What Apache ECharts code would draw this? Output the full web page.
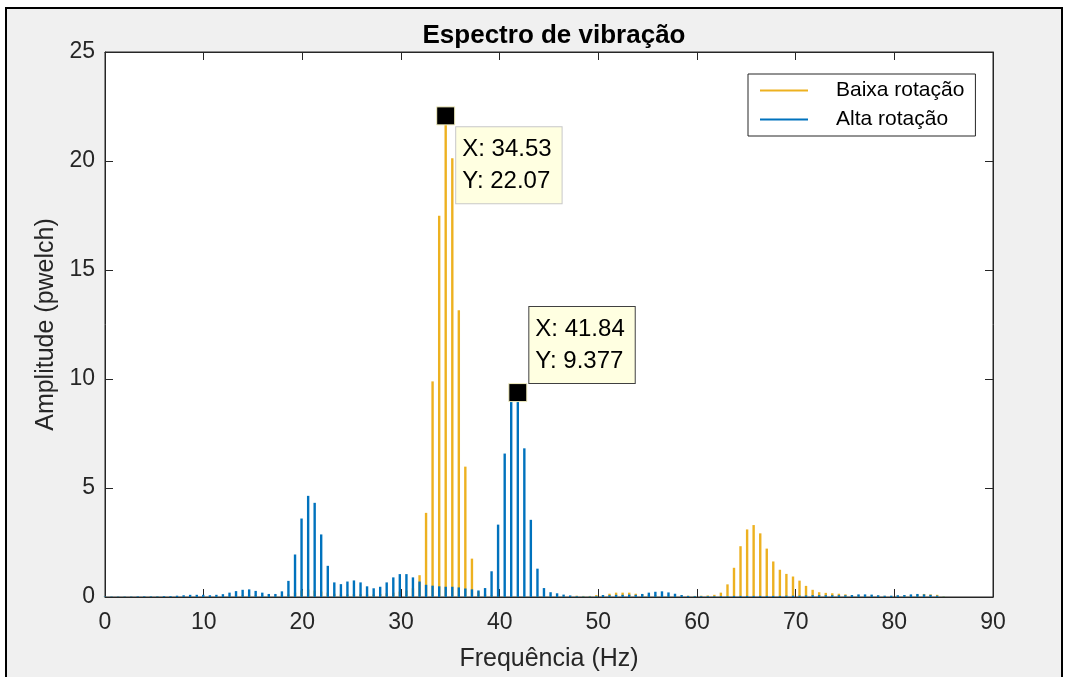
<!DOCTYPE html>
<html>
<head>
<meta charset="utf-8">
<script src="https://cdn.jsdelivr.net/npm/echarts@6/dist/echarts.min.js"></script>
<style>
html,body{margin:0;padding:0;background:#fff;}
#frame{position:absolute;left:5px;top:7px;width:1054px;height:700px;border:2px solid #000;background:#f0f0f0;}
#chart{position:absolute;left:0;top:0;width:1068px;height:677px;}
</style>
</head>
<body>
<div id="frame"></div>
<div id="chart"></div>
<script>
// Frequency bins (Hz)
const freq = [0.00,0.66,1.33,1.99,2.66,3.32,3.98,4.65,5.31,5.98,6.64,7.30,7.97,8.63,9.30,9.96,
10.63,11.29,11.95,12.62,13.28,13.95,14.61,15.27,15.94,16.60,17.27,17.93,18.59,19.26,19.92,
20.59,21.25,21.91,22.58,23.24,23.91,24.57,25.23,25.90,26.56,27.23,27.89,28.55,29.22,29.88,
30.55,31.21,31.88,32.54,33.20,33.87,34.53,35.20,35.86,36.52,37.19,37.85,38.52,39.18,39.84,
40.51,41.17,41.84,42.50,43.16,43.83,44.49,45.16,45.82,46.48,47.15,47.81,48.48,49.14,49.80,
50.47,51.13,51.80,52.46,53.13,53.79,54.45,55.12,55.78,56.45,57.11,57.77,58.44,59.10,59.77,
60.43,61.09,61.76,62.42,63.09,63.75,64.41,65.08,65.74,66.41,67.07,67.73,68.40,69.06,69.73,
70.39,71.05,71.72,72.38,73.05,73.71,74.38,75.04,75.70,76.37,77.03,77.70,78.36,79.02,79.69,
80.35,81.02,81.68,82.34,83.01,83.67,84.34,85.00];

// Baixa rotação (orange)
const baixa = [0.01,0.01,0.01,0.01,0.01,0.01,0.01,0.02,0.02,0.02,0.02,0.03,0.03,0.04,0.04,0.04,
0.04,0.05,0.05,0.06,0.07,0.08,0.08,0.08,0.07,0.06,0.06,0.08,0.12,0.2,0.3,
0.35,0.3,0.25,0.2,0.15,0.12,0.12,0.13,0.13,0.12,0.12,0.14,0.17,0.2,0.25,
0.3,0.4,1.0,3.86,9.89,17.49,22.07,20.13,13.15,5.98,1.76,0.25,0.12,0.08,0.06,
0.05,0.05,0.05,0.05,0.05,0.05,0.05,0.05,0.05,0.05,0.05,0.06,0.05,0.05,0.09,
0.07,0.15,0.2,0.2,0.2,0.15,0.12,0.1,0.08,0.07,0.06,0.06,0.06,0.06,0.05,
0.06,0.07,0.1,0.2,0.58,1.34,2.33,3.1,3.3,2.92,2.22,1.63,1.25,1.06,0.94,
0.75,0.51,0.33,0.22,0.19,0.17,0.15,0.12,0.07,0.07,0.07,0.07,0.06,0.05,0.05,
0.06,0.07,0.08,0.1,0.14,0.12,0.1,0.03];

// Alta rotação (blue)
const alta = [0.02,0.02,0.02,0.02,0.02,0.03,0.03,0.03,0.03,0.04,0.04,0.06,0.08,0.1,0.1,0.1,
0.08,0.1,0.13,0.2,0.27,0.33,0.35,0.28,0.2,0.14,0.14,0.26,0.74,1.95,3.6,
4.64,4.32,2.87,1.43,0.67,0.59,0.71,0.76,0.67,0.49,0.4,0.47,0.67,0.9,1.05,
1.05,0.9,0.71,0.56,0.52,0.49,0.47,0.47,0.44,0.39,0.35,0.3,0.41,1.18,3.32,
6.58,8.95,9.377,6.82,3.54,1.3,0.41,0.22,0.17,0.11,0.07,0.04,0.03,0.03,0.04,
0.09,0.08,0.1,0.1,0.11,0.1,0.14,0.2,0.24,0.26,0.21,0.15,0.09,0.05,0.04,
0.04,0.04,0.04,0.04,0.04,0.05,0.05,0.05,0.05,0.05,0.05,0.05,0.05,0.06,0.06,
0.06,0.07,0.08,0.08,0.08,0.08,0.08,0.08,0.09,0.12,0.12,0.11,0.08,0.06,0.06,
0.08,0.09,0.12,0.14,0.12,0.1,0.06,0.02];

const seriesNames = ['Baixa rotação', 'Alta rotação'];
const xTicks = {min: 0, max: 90, interval: 10};
const yTicks = {min: 0, max: 25, interval: 5};
const tipBaixaIdx = 52;
const tipAltaIdx = 63;

const FONT = '"Liberation Sans", Arial, Helvetica, sans-serif';
const AX = '#262626';

const chart = echarts.init(document.getElementById('chart'), null, {renderer: 'canvas'});

function xAx(pos, labels) {
  return {
    type: 'value', position: pos, min: xTicks.min, max: xTicks.max, interval: xTicks.interval,
    axisLine: {show: true, onZero: false, lineStyle: {color: AX, width: 1}},
    axisTick: {show: true, inside: true, length: 8, lineStyle: {color: AX}},
    axisLabel: {show: labels, fontSize: 23, color: AX, fontFamily: FONT, margin: 14},
    splitLine: {show: false},
    name: labels ? 'Frequência (Hz)' : '', nameLocation: 'middle', nameGap: 50,
    nameTextStyle: {fontSize: 25, color: AX, fontFamily: FONT}
  };
}
function yAx(pos, labels) {
  return {
    type: 'value', position: pos, min: yTicks.min, max: yTicks.max, interval: yTicks.interval,
    axisLine: {show: true, onZero: false, lineStyle: {color: AX, width: 1}},
    axisTick: {show: true, inside: true, length: 8, lineStyle: {color: AX}},
    axisLabel: {show: labels, fontSize: 23, color: AX, fontFamily: FONT, margin: 10},
    splitLine: {show: false},
    name: labels ? 'Amplitude (pwelch)' : '', nameLocation: 'middle', nameGap: 46,
    nameTextStyle: {fontSize: 25, color: AX, fontFamily: FONT}
  };
}

function tipLabel(x, y, pos, border) {
  return {
    show: true, position: pos,
    formatter: 'X: ' + x + '\nY: ' + y,
    fontSize: 24, lineHeight: 32, color: '#000', fontFamily: FONT,
    backgroundColor: '#ffffe1', borderColor: border, borderWidth: 1,
    padding: [6, 10, 6, 6], align: 'left', verticalAlign: 'top'
  };
}

const option = {
  backgroundColor: 'transparent',
  animation: false,
  title: {
    text: 'Espectro de vibração', left: 549, textAlign: 'center', top: 18,
    textStyle: {fontSize: 26, fontWeight: 'bold', color: '#000', fontFamily: FONT}
  },
  legend: {
    orient: 'vertical', left: 748, top: 74,
    data: seriesNames,
    icon: 'rect', itemWidth: 48, itemHeight: 2, itemGap: 8,
    backgroundColor: '#fff', borderColor: AX, borderWidth: 1, borderRadius: 0,
    padding: [6, 11, 6, 12],
    textStyle: {fontSize: 21, color: '#000', fontFamily: FONT, lineHeight: 20, padding: [0, 0, 0, 23]}
  },
  grid: {
    left: 105, top: 52, right: 75, bottom: 79,
    show: true, backgroundColor: '#fff', borderColor: AX, borderWidth: 1
  },
  xAxis: [xAx('bottom', true), xAx('top', false)],
  yAxis: [yAx('left', true), yAx('right', false)],
  series: [
    {
      name: seriesNames[0], type: 'bar', xAxisIndex: 0, yAxisIndex: 0,
      barWidth: 2.4, barGap: '-100%',
      itemStyle: {color: '#EDB120'},
      data: freq.map((f, i) => [f, baixa[i]]),
      markPoint: {
        symbol: 'rect', symbolSize: 18,
        itemStyle: {color: '#000', borderColor: '#f3efc0', borderWidth: 1},
        data: [{coord: [freq[tipBaixaIdx], baixa[tipBaixaIdx]],
                label: tipLabel(freq[tipBaixaIdx], baixa[tipBaixaIdx], [20, 21], '#c8c8c8')}]
      }
    },
    {
      name: seriesNames[1], type: 'bar', xAxisIndex: 0, yAxisIndex: 0,
      barWidth: 2.4, barGap: '-100%',
      itemStyle: {color: '#0072BD'},
      data: freq.map((f, i) => [f, alta[i]]),
      markPoint: {
        symbol: 'rect', symbolSize: 18,
        itemStyle: {color: '#000', borderColor: '#f3efc0', borderWidth: 1},
        data: [{coord: [freq[tipAltaIdx], alta[tipAltaIdx]],
                label: tipLabel(freq[tipAltaIdx], alta[tipAltaIdx], [21, -76], '#404040')}]
      }
    }
  ]
};
chart.setOption(option);
</script>
</body>
</html>
